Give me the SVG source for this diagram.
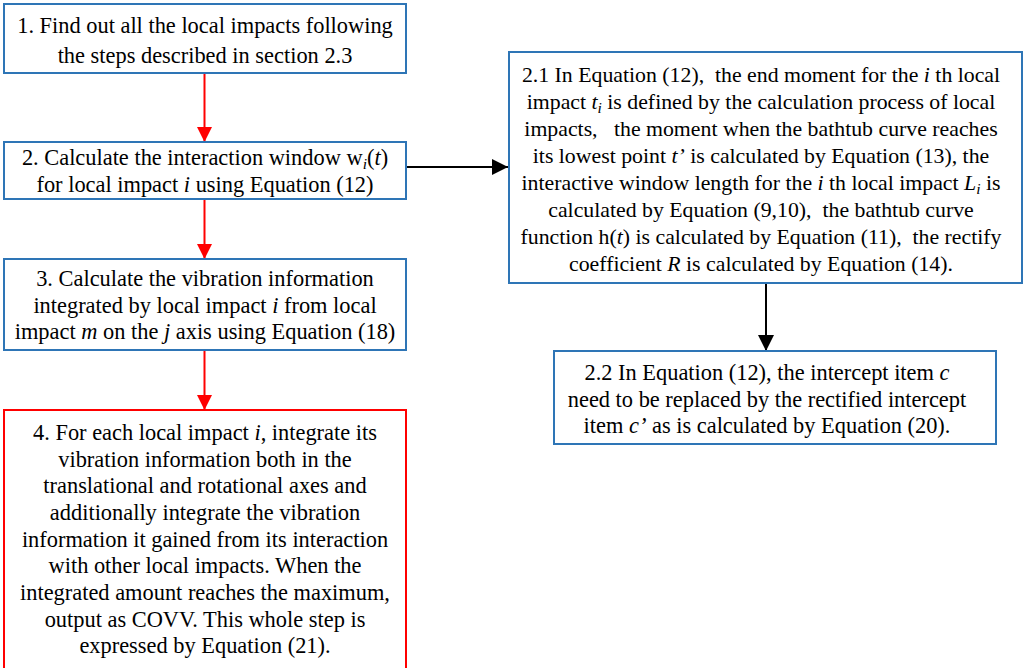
<svg xmlns="http://www.w3.org/2000/svg" width="1025" height="668" viewBox="0 0 1025 668">
  <style>
    .box { fill: #ffffff; stroke: #2E75B6; stroke-width: 2; }
    .box-red { fill: #ffffff; stroke: #FF0000; stroke-width: 2; }
    .txt { font-family: "Liberation Serif", "Times New Roman", serif; font-size: 22.4px; fill: #000000; text-anchor: middle; }
    .txt-s { font-size: 21.8px; }
    .it { font-style: italic; }
    .sub { font-size: 15.5px; font-style: italic; }
    .red-line { stroke: #FF0000; stroke-width: 2; fill: none; }
    .blk-line { stroke: #000000; stroke-width: 2; fill: none; }
  </style>
  <defs>
    <marker id="arrow-red" viewBox="0 0 10 10" refX="10" refY="5" markerWidth="7.5" markerHeight="7.5" markerUnits="strokeWidth" orient="auto">
      <path d="M0,0 L10,5 L0,10 Z" fill="#FF0000"/>
    </marker>
    <marker id="arrow-black" viewBox="0 0 10 10" refX="10" refY="5" markerWidth="8" markerHeight="8" markerUnits="strokeWidth" orient="auto">
      <path d="M0,0 L10,5 L0,10 Z" fill="#000000"/>
    </marker>
  </defs>

  <rect width="1025" height="668" fill="#ffffff"/>

  <!-- connectors -->
  <g id="connectors">
    <line class="red-line" x1="204.5" y1="73" x2="204.5" y2="142" marker-end="url(#arrow-red)"/>
    <line class="red-line" x1="204.5" y1="199" x2="204.5" y2="259" marker-end="url(#arrow-red)"/>
    <line class="red-line" x1="204.5" y1="350" x2="204.5" y2="410" marker-end="url(#arrow-red)"/>
    <line class="blk-line" x1="406" y1="167" x2="508" y2="167" marker-end="url(#arrow-black)"/>
    <line class="blk-line" x1="766" y1="283" x2="766" y2="351" marker-end="url(#arrow-black)"/>
  </g>

  <!-- step 1 -->
  <g id="step1">
    <rect class="box" x="4" y="4" width="402" height="69"/>
    <text class="txt" x="205" y="33">1. Find out all the local impacts following</text>
    <text class="txt" x="205" y="63">the steps described in section 2.3</text>
  </g>

  <!-- step 2 -->
  <g id="step2">
    <rect class="box" x="4" y="142" width="402" height="57"/>
    <text class="txt" x="205" y="165">2. Calculate the interaction window w<tspan class="sub" dy="4">i</tspan><tspan dy="-4">(</tspan><tspan class="it">t</tspan>)</text>
    <text class="txt" x="205" y="192">for local impact <tspan class="it">i</tspan> using Equation (12)</text>
  </g>

  <!-- step 3 -->
  <g id="step3">
    <rect class="box" x="4" y="259" width="402" height="91"/>
    <text class="txt" x="205" y="286">3. Calculate the vibration information</text>
    <text class="txt" x="205" y="313">integrated by local impact <tspan class="it">i</tspan> from local</text>
    <text class="txt" x="205" y="339">impact <tspan class="it">m</tspan> on the <tspan class="it">j</tspan> axis using Equation (18)</text>
  </g>

  <!-- step 4 -->
  <g id="step4">
    <rect class="box-red" x="4" y="410" width="402" height="270"/>
    <text class="txt" x="205" y="440">4. For each local impact <tspan class="it">i</tspan>, integrate its</text>
    <text class="txt" x="205" y="467">vibration information both in the</text>
    <text class="txt" x="205" y="493">translational and rotational axes and</text>
    <text class="txt" x="205" y="520">additionally integrate the vibration</text>
    <text class="txt" x="205" y="547">information it gained from its interaction</text>
    <text class="txt" x="205" y="573">with other local impacts. When the</text>
    <text class="txt" x="205" y="600">integrated amount reaches the maximum,</text>
    <text class="txt" x="205" y="627">output as COVV. This whole step is</text>
    <text class="txt" x="205" y="653">expressed by Equation (21).</text>
  </g>

  <!-- step 2.1 -->
  <g id="step2_1">
    <rect class="box" x="509" y="52" width="513" height="231"/>
    <text class="txt txt-s" x="761" y="82" xml:space="preserve">2.1 In Equation (12),  the end moment for the <tspan class="it">i</tspan> th local</text>
    <text class="txt txt-s" x="761" y="109">impact <tspan class="it">t</tspan><tspan class="sub" dy="4">i</tspan><tspan dy="-4"> is defined by the calculation process of local</tspan></text>
    <text class="txt txt-s" x="761" y="136" xml:space="preserve">impacts,   the moment when the bathtub curve reaches</text>
    <text class="txt txt-s" x="761" y="163">its lowest point <tspan class="it">t’</tspan> is calculated by Equation (13), the</text>
    <text class="txt txt-s" x="761" y="190">interactive window length for the <tspan class="it">i</tspan> th local impact <tspan class="it">L</tspan><tspan class="sub" dy="4">i</tspan><tspan dy="-4"> is</tspan></text>
    <text class="txt txt-s" x="761" y="217" xml:space="preserve">calculated by Equation (9,10),  the bathtub curve</text>
    <text class="txt txt-s" x="761" y="244" xml:space="preserve">function h(<tspan class="it">t</tspan>) is calculated by Equation (11),  the rectify</text>
    <text class="txt txt-s" x="761" y="271">coefficient <tspan class="it">R</tspan> is calculated by Equation (14).</text>
  </g>

  <!-- step 2.2 -->
  <g id="step2_2">
    <rect class="box" x="554" y="351" width="442" height="93"/>
    <text class="txt" x="767" y="380">2.2 In Equation (12), the intercept item <tspan class="it">c</tspan></text>
    <text class="txt" x="767" y="407">need to be replaced by the rectified intercept</text>
    <text class="txt" x="767" y="433">item <tspan class="it">c’</tspan> as is calculated by Equation (20).</text>
  </g>
</svg>
